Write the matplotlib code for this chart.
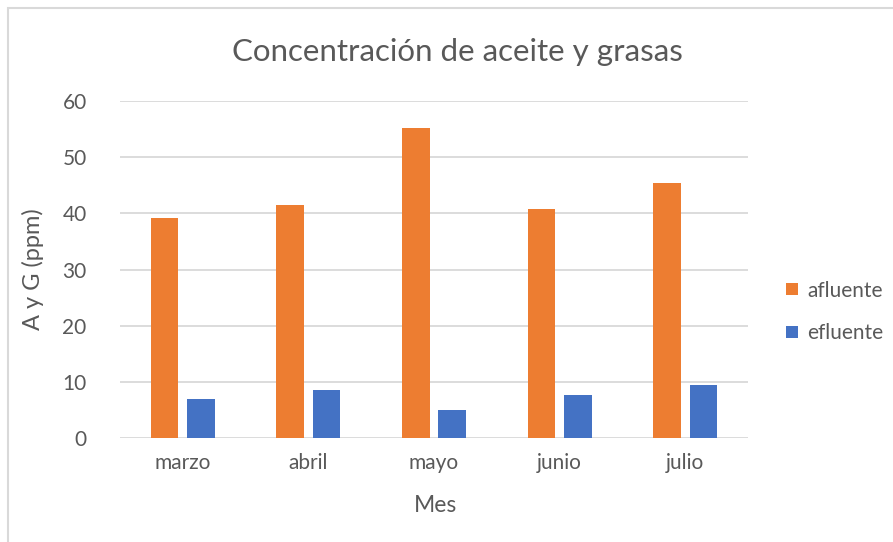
import numpy as np
import matplotlib
matplotlib.use("Agg")
import matplotlib.pyplot as plt
from matplotlib.patches import Rectangle

plt.rcParams['font.family'] = ['Lato', 'DejaVu Sans']

# Data
meses = ["marzo", "abril", "mayo", "junio", "julio"]
afluente = [39.2, 41.5, 55.2, 40.7, 45.4]
efluente = [7.0, 8.5, 4.9, 7.7, 9.4]

text_color = "#595959"
fig = plt.figure(figsize=(8.93, 5.42), dpi=100)
ax = fig.add_axes([120 / 893, 1 - 438 / 542, 628 / 893, 337 / 542])

x = np.arange(len(meses))
w = 0.22
ax.bar(x - 0.145, afluente, w, color="#ED7D31", label="afluente", zorder=3)
ax.bar(x + 0.145, efluente, w, color="#4472C4", label="efluente", zorder=3)

ax.set_xlim(-0.5, len(meses) - 0.5)
ax.set_ylim(0, 60)
ax.set_yticks(range(0, 61, 10))
ax.set_xticks(x)
ax.set_xticklabels(meses)
ax.grid(axis="y", color="#D9D9D9", linewidth=1.3, zorder=0)
for s in ax.spines.values():
    s.set_visible(False)
ax.tick_params(length=0, labelsize=15, colors=text_color)
ax.tick_params(axis="x", pad=11)
ax.tick_params(axis="y", pad=24)

ax.set_xlabel("Mes", fontsize=16.5, color=text_color)
ax.set_ylabel("A y G (ppm)", fontsize=17, color=text_color)
ax.xaxis.set_label_coords(0.5 + (435 - 434) / 628, (438 - 505) / 337)
ax.yaxis.set_label_coords((33 - 120) / 628, 0.5 + (438 - 269.5 - 168.5) / 337)
ax.xaxis.label.set_va("center")
ax.yaxis.label.set_va("center")

fig.text(457 / 893, 1 - 52 / 542, "Concentración de aceite y grasas",
         ha="center", va="center", fontsize=22.5, color=text_color)

leg = fig.legend(loc="center left", bbox_to_anchor=(778 / 893, 1 - 312 / 542),
                 frameon=False, fontsize=15, handlelength=0.55, handleheight=0.55,
                 labelspacing=1.1, handletextpad=0.45, borderaxespad=0)
for t in leg.get_texts():
    t.set_color(text_color)

# chart border
fig.patches.append(Rectangle((8 / 893, -0.01), 1.1, 1 - 8 / 542 + 0.01,
                             transform=fig.transFigure, fill=False,
                             edgecolor="#D9D9D9", linewidth=1.5))

fig.savefig("out.png", dpi=100)
